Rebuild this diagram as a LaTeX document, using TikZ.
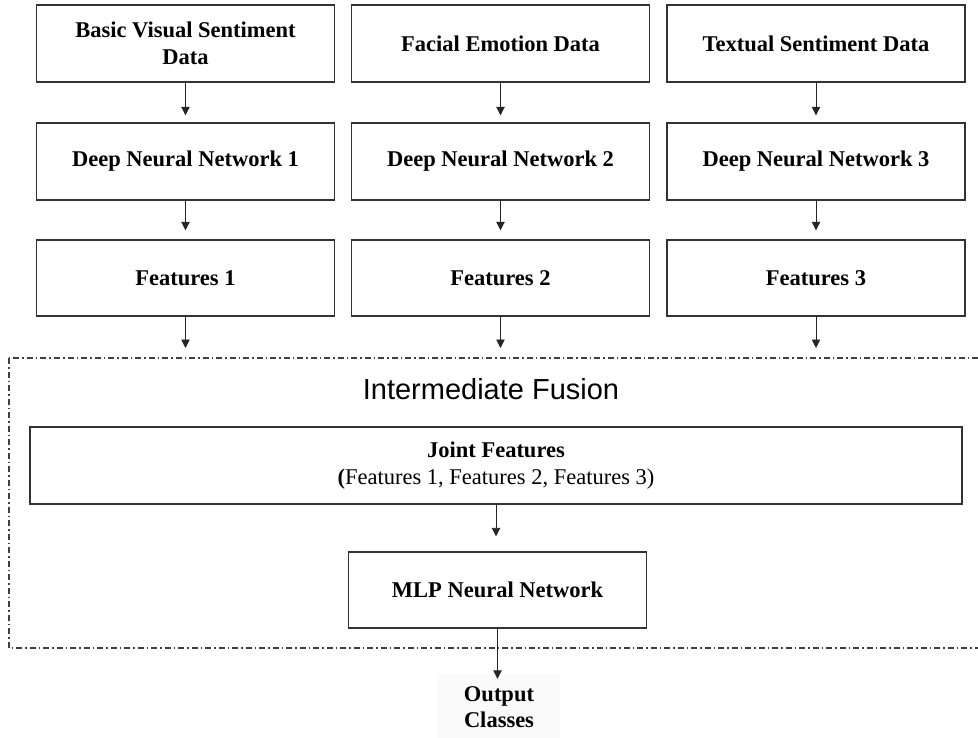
\documentclass[tikz,border=0pt]{standalone}
\usepackage{fontspec}
\setmainfont{Liberation Serif}
\newfontfamily\arialfont{Liberation Sans}
\usetikzlibrary{arrows.meta}

\tikzset{
  box/.style={draw=black!80, line width=1.4pt, fill=white,
    minimum width=298pt, minimum height=77pt, inner sep=0pt,
    align=center, font=\fontsize{22.5}{27.5}\selectfont\bfseries},
  flow/.style={draw=black!85, line width=0.9pt,
    -{Triangle[length=8.5pt,width=8.5pt]}},
  fusionframe/.style={draw=black!75, line width=1.1pt,
    dash pattern=on 6pt off 3pt on 1.5pt off 3pt}
}

\begin{document}
\begin{tikzpicture}[x=1pt, y=-1pt]
  \useasboundingbox (0,0) rectangle (978,738);

  % fusion stage frame (open to the right)
  \begin{scope}
    \clip (0,0) rectangle (978,738);
    \draw[fusionframe] (9,358) rectangle (1000,648);
  \end{scope}

  % input data
  \node[box] (in1) at (185.5,43.5) {Basic Visual Sentiment\\Data};
  \node[box] (in2) at (500.5,43.5) {Facial Emotion Data};
  \node[box] (in3) at (816,43.5)   {Textual Sentiment Data};

  % per-modality networks
  \node[box] (dnn1) at (185.5,161.5) {Deep Neural Network 1};
  \node[box] (dnn2) at (500.5,161.5) {Deep Neural Network 2};
  \node[box] (dnn3) at (816,161.5)   {Deep Neural Network 3};

  % extracted features
  \node[box, minimum height=76pt] (f1) at (185.5,278) {Features 1};
  \node[box, minimum height=76pt] (f2) at (500.5,278) {Features 2};
  \node[box, minimum height=76pt] (f3) at (816,278)   {Features 3};

  \coordinate (e1) at (185.5,348);
  \coordinate (e2) at (500.5,348);
  \coordinate (e3) at (816,348);

  % fusion stage
  \node[font=\arialfont\fontsize{29}{34}\selectfont] (fusion) at (491,389) {Intermediate Fusion};

  \node[box, minimum width=932pt] (joint) at (496,465.5)
    {Joint Features\\\mdseries\textbf{(}Features 1, Features 2, Features 3)};

  \node[box, minimum height=76pt] (mlp) at (497.5,590) {MLP Neural Network};

  \node[fill=black!2, minimum width=122pt, minimum height=66pt, inner sep=0pt,
        align=center, font=\fontsize{22.5}{26}\selectfont\bfseries]
        (out) at (499,707) {Output\\Classes};

  % connectors
  \foreach \i in {1,2,3} {
    \draw[flow, shorten >=7pt] (in\i) -- (dnn\i);
    \draw[flow, shorten >=9pt] (dnn\i) -- (f\i);
    \draw[flow] (f\i) -- (e\i);
  }
  \draw[flow, shorten >=15pt] (joint.south) -- (joint.south |- mlp.north);
  \draw[flow, shorten >=-5pt] (mlp.south) -- (mlp.south |- out.north);
\end{tikzpicture}
\end{document}
